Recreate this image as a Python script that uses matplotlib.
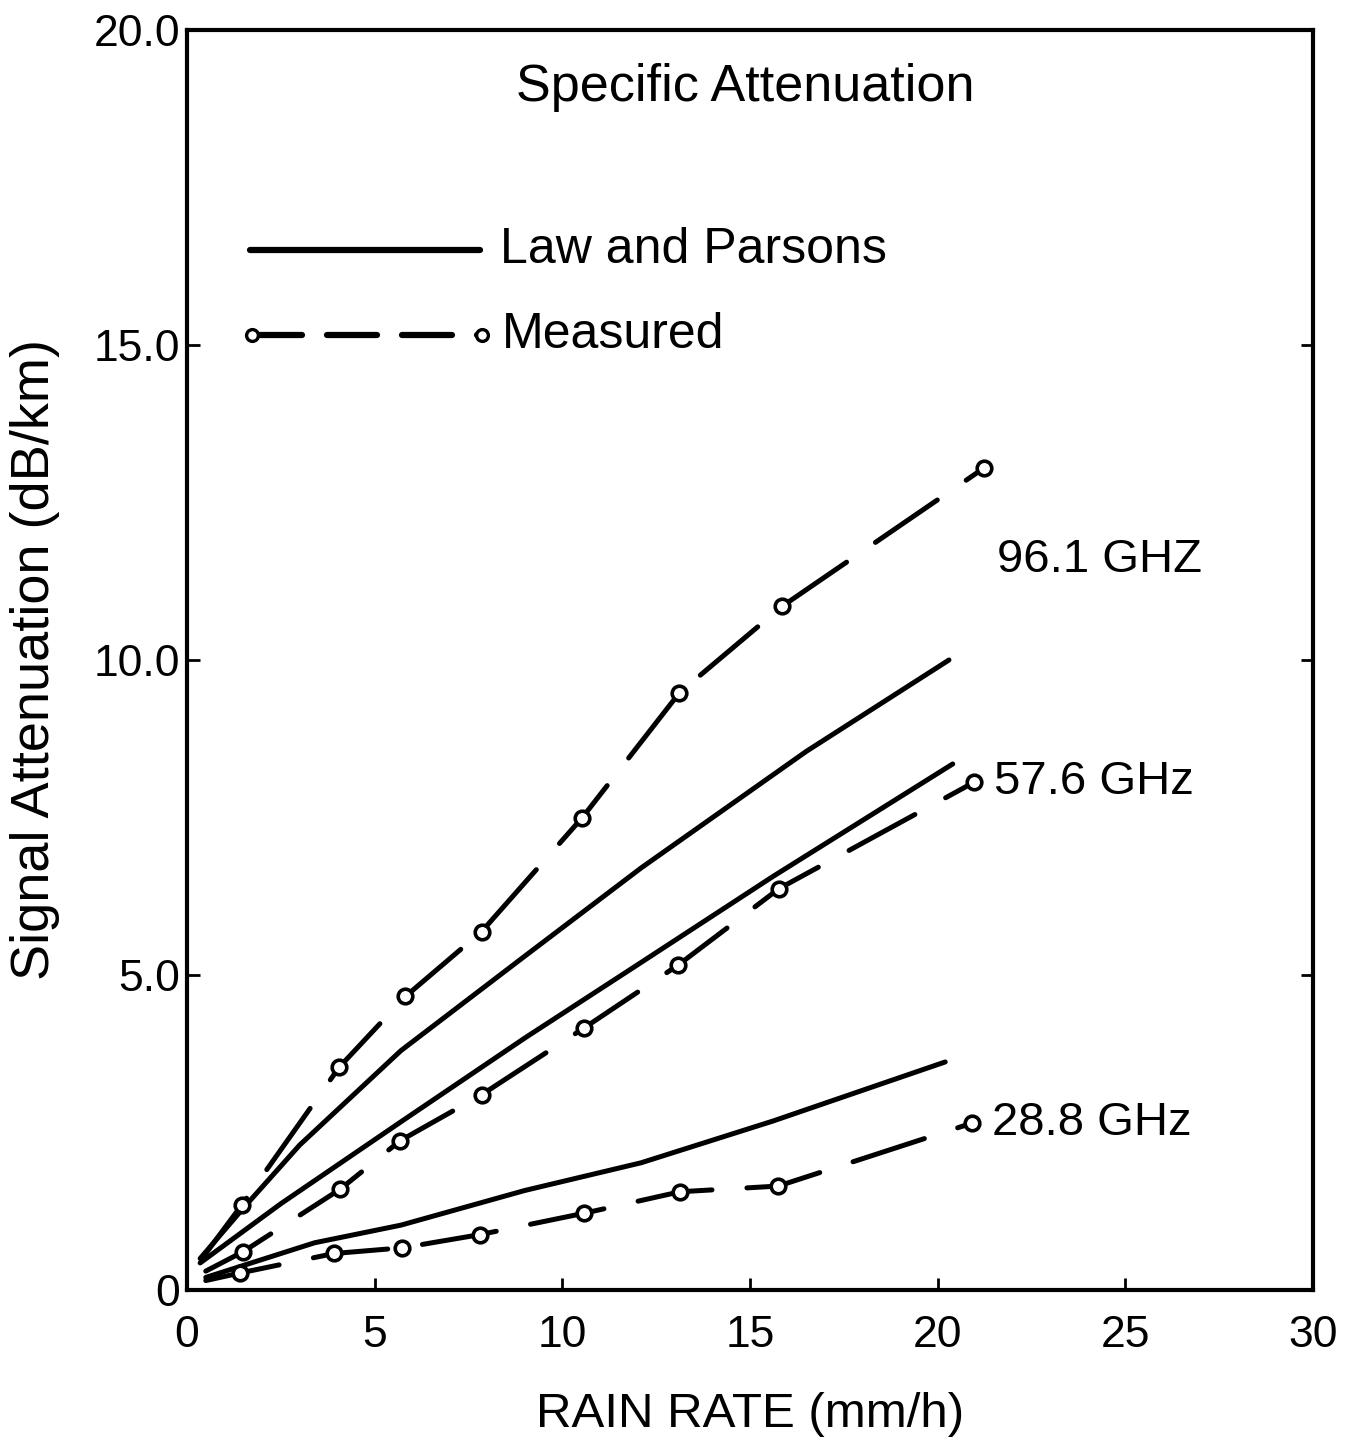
import matplotlib
matplotlib.use("Agg")
import matplotlib.pyplot as plt
from matplotlib.ticker import FixedLocator, FixedFormatter

plt.rcParams['font.family'] = ['Liberation Sans', 'DejaVu Sans']

# Rain rate (mm/h) and specific attenuation (dB/km)
# Law and Parsons predictions
lp_961_rate = [0.35, 1.5, 3.0, 5.7, 9.0, 12.1, 16.5, 20.3]
lp_961_att = [0.50, 1.30, 2.30, 3.80, 5.30, 6.70, 8.55, 10.0]
lp_576_rate = [0.35, 2.5, 5.7, 9.0, 12.1, 15.6, 20.4]
lp_576_att = [0.43, 1.37, 2.67, 4.00, 5.20, 6.56, 8.35]
lp_288_rate = [0.5, 3.4, 5.7, 9.0, 12.1, 15.6, 20.2]
lp_288_att = [0.20, 0.75, 1.03, 1.58, 2.02, 2.68, 3.62]

# Measured values (first entry is the start of the trace, no symbol)
ms_961_rate = [0.4, 1.46, 4.06, 5.82, 7.85, 10.52, 13.12, 15.85, 21.24]
ms_961_att = [0.50, 1.35, 3.54, 4.66, 5.69, 7.49, 9.48, 10.85, 13.05]
ms_576_rate = [0.5, 1.50, 4.08, 5.68, 7.85, 10.58, 13.09, 15.77, 20.97]
ms_576_att = [0.30, 0.61, 1.60, 2.37, 3.10, 4.16, 5.16, 6.37, 8.06]
ms_288_rate = [0.5, 1.41, 3.92, 5.74, 7.81, 10.59, 13.14, 15.75, 20.92]
ms_288_att = [0.15, 0.27, 0.58, 0.67, 0.88, 1.22, 1.56, 1.65, 2.65]

x_ticks = [0, 5, 10, 15, 20, 25, 30]
x_tick_labels = ["0", "5", "10", "15", "20", "25", "30"]
y_ticks = [0, 5, 10, 15, 20]
y_tick_labels = ["0", "5.0", "10.0", "15.0", "20.0"]

fig = plt.figure(figsize=(13.58, 14.48), dpi=100)
ax = fig.add_axes([0.1377, 0.1091, 0.8292, 0.8702])

LW = 3.6
dash = (0, (15, 7))
mkw = dict(marker='o', markersize=10.5, markerfacecolor='white',
           markeredgecolor='black', markeredgewidth=2.6)

for r, a in [(lp_961_rate, lp_961_att), (lp_576_rate, lp_576_att),
             (lp_288_rate, lp_288_att)]:
    ax.plot(r, a, color='black', lw=LW, solid_capstyle='round',
            solid_joinstyle='round', zorder=3)

for r, a in [(ms_961_rate, ms_961_att), (ms_576_rate, ms_576_att),
             (ms_288_rate, ms_288_att)]:
    ax.plot(r, a, color='black', lw=LW, linestyle=dash,
            dash_capstyle='round', markevery=slice(1, None), zorder=4, **mkw)

ax.set_xlim(0, 30)
ax.set_ylim(0, 20)
ax.xaxis.set_major_locator(FixedLocator(x_ticks))
ax.xaxis.set_major_formatter(FixedFormatter(x_tick_labels))
ax.yaxis.set_major_locator(FixedLocator(y_ticks))
ax.yaxis.set_major_formatter(FixedFormatter(y_tick_labels))

for s in ax.spines.values():
    s.set_linewidth(3.0)

ax.tick_params(axis='x', direction='in', length=9, width=2, labelsize=32,
               pad=18, top=False)
ax.tick_params(axis='y', direction='in', length=9, width=2, labelsize=32,
               pad=5, right=True)

ax.text(0.5, -0.099, "RAIN RATE (mm/h)", transform=ax.transAxes,
        ha='center', va='center', fontsize=35.5)
ax.text(-0.135, 0.5, "Signal Attenuation (dB/km)", transform=ax.transAxes,
        ha='center', va='center', rotation=90, fontsize=39)

ax.text(0.496, 0.954, "Specific Attenuation", transform=ax.transAxes,
        ha='center', va='center', fontsize=37.5)

# Key
ax.plot([0.056, 0.260], [0.825, 0.825], transform=ax.transAxes,
        color='black', lw=4.5, solid_capstyle='round', clip_on=False)
ax.text(0.278, 0.825, "Law and Parsons", transform=ax.transAxes,
        ha='left', va='center', fontsize=36)
ax.plot([0.058, 0.262], [0.758, 0.758], transform=ax.transAxes,
        color='black', lw=4.5, linestyle=(0, (8, 4)), dash_capstyle='round',
        markevery=[0, 1], clip_on=False, marker='o', markersize=8.5,
        markerfacecolor='white', markeredgecolor='black', markeredgewidth=2.4)
ax.text(0.280, 0.758, "Measured", transform=ax.transAxes,
        ha='left', va='center', fontsize=36)

# Frequency labels
ax.text(0.719, 0.579, "96.1 GHZ", transform=ax.transAxes,
        ha='left', va='center', fontsize=34)
ax.annotate("57.6 GHz", xy=(ms_576_rate[-1], ms_576_att[-1]),
            xytext=(14, 0), textcoords='offset points',
            ha='left', va='center', fontsize=34)
ax.annotate("28.8 GHz", xy=(ms_288_rate[-1], ms_288_att[-1]),
            xytext=(14, 0), textcoords='offset points',
            ha='left', va='center', fontsize=34)

fig.savefig("out.png", dpi=100, facecolor='white')
